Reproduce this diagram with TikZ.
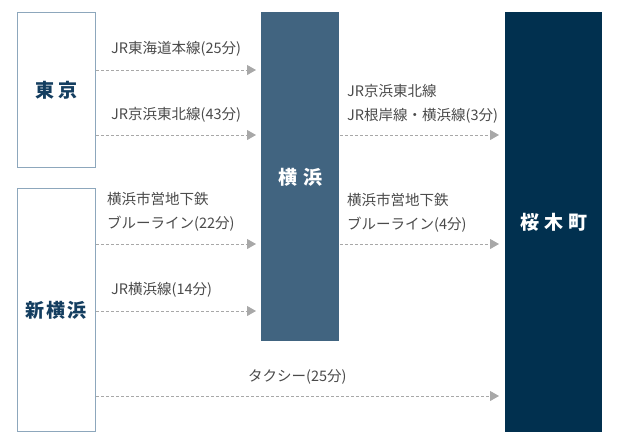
\documentclass[tikz,border=0pt]{standalone}
\usepackage{fontspec}
\setmainfont{Noto Sans CJK JP}
\usetikzlibrary{arrows.meta}

\definecolor{frameblue}{HTML}{8DA7BC}
\definecolor{yokoblue}{HTML}{416480}
\definecolor{sakuranavy}{HTML}{01304F}
\definecolor{citytext}{HTML}{143E60}
\definecolor{linetext}{HTML}{4A4A4A}
\definecolor{routegray}{HTML}{A8A8A8}

\tikzset{
  station/.style={draw=frameblue, line width=0.8pt, fill=white, anchor=north west, inner sep=0pt,
    text=citytext, font=\fontsize{19}{22}\selectfont\bfseries},
  hub/.style={station, draw=none, fill=yokoblue, text=white},
  goal/.style={station, draw=none, fill=sakuranavy, text=white},
  route/.style={routegray, line width=0.8pt, dash pattern=on 3pt off 2pt, shorten >=5pt,
    -{Triangle[length=9pt,width=10pt]}},
  linelabel/.style={anchor=west, align=left, inner sep=0pt, text=linetext,
    font=\fontsize{14.5}{24}\selectfont}
}

\begin{document}
\begin{tikzpicture}[x=1pt,y=-1pt]
        \useasboundingbox (0,0) rectangle (627,442);

        % stations
        \node[station, minimum width=78pt, minimum height=155pt] (tokyo) at (17,12) {東\hspace{4pt}京};
        \node[station, minimum width=78pt, minimum height=243pt] (shinyoko) at (17,188) {新\hspace{2pt}横\hspace{2pt}浜};
        \node[hub, minimum width=78pt, minimum height=329pt] (yokohama) at (261,12) {横\hspace{6pt}浜};
        \node[goal, minimum width=97pt, minimum height=420pt] (sakuragi) at (505,12) {桜\hspace{5pt}木\hspace{5pt}町};

        % rows of the routes
        \coordinate (r1) at (0,70);
        \coordinate (r2) at (0,135);
        \coordinate (r3) at (0,244);
        \coordinate (r4) at (0,311);
        \coordinate (r5) at (0,396);

        \draw[route] (tokyo.east |- r1) -- (yokohama.west |- r1);
        \draw[route] (tokyo.east |- r2) -- (yokohama.west |- r2);
        \draw[route] (shinyoko.east |- r3) -- (yokohama.west |- r3);
        \draw[route] (shinyoko.east |- r4) -- (yokohama.west |- r4);
        \draw[route, shorten >=6pt] (yokohama.east |- r2) -- (sakuragi.west |- r2);
        \draw[route, shorten >=6pt] (yokohama.east |- r3) -- (sakuragi.west |- r3);
        \draw[route, shorten >=6pt] (shinyoko.east |- r5) -- (sakuragi.west |- r5);

        % line names
        \node[linelabel] (tokaido) at (111,49) {JR東海道本線(25分)};
        \node[linelabel] (keihin) at (111,115) {JR京浜東北線(43分)};
        \node[linelabel] (blueline22) at (107,211.5) {横浜市営地下鉄\\ブルーライン(22分)};
        \node[linelabel] (yokohamaline) at (111,290) {JR横浜線(14分)};
        \node[linelabel] (negishi) at (347,104) {JR京浜東北線\\JR根岸線・横浜線(3分)};
        \node[linelabel] (blueline4) at (347,212.5) {横浜市営地下鉄\\ブルーライン(4分)};
        \node[linelabel] (taxi) at (248,377) {タクシー(25分)};

\end{tikzpicture}
\end{document}
